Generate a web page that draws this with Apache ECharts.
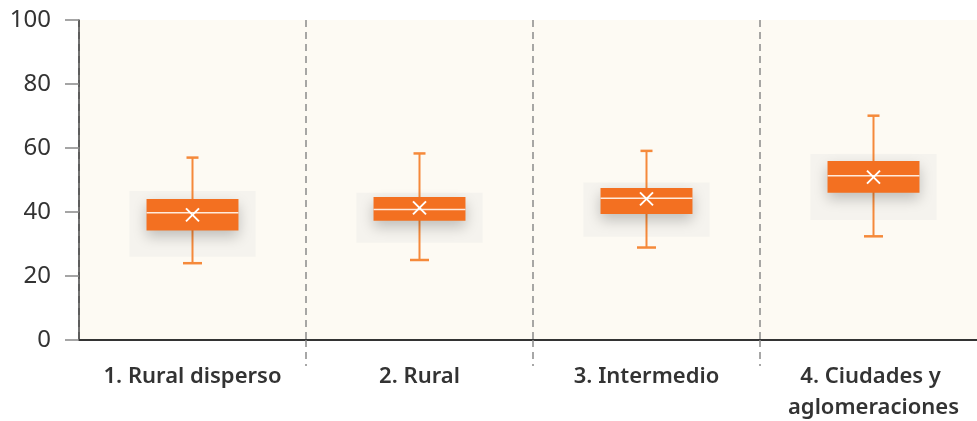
<!DOCTYPE html>
<html>
<head>
<meta charset="utf-8">
<script src="https://cdn.jsdelivr.net/npm/echarts@6/dist/echarts.min.js"></script>
<style>
  html, body { margin: 0; padding: 0; background: #fff; }
  #chart { width: 977px; height: 421px; }
</style>
</head>
<body>
<div id="chart"></div>
<script>
const categories = ['1. Rural disperso', '2. Rural', '3. Intermedio', '4. Ciudades y aglomeraciones']
const whiskerLow = [24.0, 25.0, 28.9, 32.4]
const q1 = [34.2, 37.3, 39.4, 46.0]
const median = [39.8, 40.8, 44.3, 51.3]
const q3 = [44.1, 44.7, 47.5, 55.9]
const whiskerHigh = [57.0, 58.3, 59.1, 70.1]
const mean = [39.1, 41.3, 44.1, 50.9]
const bandLow = [26.0, 30.4, 32.3, 37.5]
const bandHigh = [46.6, 46.0, 49.2, 58.1]
const yTicks = [0, 20, 40, 60, 80, 100]

const orange = '#f37021'
const whiskerColor = '#f5893a'

const seriesData = categories.map((c, i) => [
  i, whiskerLow[i], q1[i], median[i], q3[i], whiskerHigh[i], mean[i], bandLow[i], bandHigh[i]
])

// dibuja caja, bigotes, banda gris y la media
function renderBox(params, api) {
  const idx = api.value(0)
  const catW = api.size([1, 0])[0]
  const cx = api.coord([idx, 0])[0]
  const y = v => api.coord([idx, v])[1]
  const boxW = catW * 0.405
  const bandW = catW * 0.556
  const capTop = 12
  const capBottom = 19
  const yLow = y(api.value(1))
  const yQ1 = y(api.value(2))
  const yMed = y(api.value(3))
  const yQ3 = y(api.value(4))
  const yHigh = y(api.value(5))
  const yMean = y(api.value(6))
  const yBandLow = y(api.value(7))
  const yBandHigh = y(api.value(8))
  const m = 6.5

  return {
    type: 'group',
    children: [
      {
        type: 'rect',
        shape: { x: cx - bandW / 2, y: yBandHigh, width: bandW, height: yBandLow - yBandHigh },
        style: { fill: '#f5f3ee' }
      },
      {
        type: 'line',
        shape: { x1: cx, y1: yHigh, x2: cx, y2: yLow },
        style: { stroke: whiskerColor, lineWidth: 2 }
      },
      {
        type: 'line',
        shape: { x1: cx - capTop / 2, y1: yHigh, x2: cx + capTop / 2, y2: yHigh },
        style: { stroke: whiskerColor, lineWidth: 2.5 }
      },
      {
        type: 'line',
        shape: { x1: cx - capBottom / 2, y1: yLow, x2: cx + capBottom / 2, y2: yLow },
        style: { stroke: whiskerColor, lineWidth: 2.5 }
      },
      {
        type: 'rect',
        shape: { x: cx - boxW / 2, y: yQ3, width: boxW, height: yQ1 - yQ3 },
        style: {
          fill: orange,
          shadowBlur: 14,
          shadowOffsetY: 6,
          shadowColor: 'rgba(0,0,0,0.22)'
        }
      },
      {
        type: 'line',
        shape: { x1: cx - boxW / 2, y1: yMed, x2: cx + boxW / 2, y2: yMed },
        style: { stroke: 'rgba(255,240,230,0.95)', lineWidth: 1.5 }
      },
      {
        type: 'line',
        shape: { x1: cx - m, y1: yMean - m, x2: cx + m, y2: yMean + m },
        style: { stroke: '#fff', lineWidth: 2 }
      },
      {
        type: 'line',
        shape: { x1: cx - m, y1: yMean + m, x2: cx + m, y2: yMean - m },
        style: { stroke: '#fff', lineWidth: 2 }
      }
    ]
  }
}

const chart = echarts.init(document.getElementById('chart'), null, { renderer: 'canvas' })
chart.setOption({
  animation: false,
  textStyle: { fontFamily: '"Noto Sans", sans-serif' },
  grid: {
    left: 79,
    top: 20,
    width: 908,
    bottom: 81,
    outerBoundsMode: 'none',
    containLabel: false,
    show: true,
    backgroundColor: '#fdfaf3',
    borderWidth: 0
  },
  xAxis: {
    type: 'category',
    data: categories,
    axisLine: { lineStyle: { color: '#333', width: 2 } },
    axisTick: {
      show: true,
      length: 26,
      interval: (i) => i > 0,
      lineStyle: { color: '#8a8a8a', width: 1.5, type: [7, 5] }
    },
    splitLine: {
      show: true,
      interval: 0,
      lineStyle: { color: '#8a8a8a', width: 1.5, type: [7, 5] }
    },
    axisLabel: {
      interval: 0,
      margin: 21,
      fontSize: 22,
      fontWeight: 600,
      color: '#333',
      width: 200,
      overflow: 'break',
      lineHeight: 31
    }
  },
  yAxis: {
    type: 'value',
    min: 0,
    max: 100,
    interval: 20,
    axisLine: { show: true, lineStyle: { color: '#444', width: 1.5 } },
    axisTick: { show: true, length: 14, lineStyle: { color: '#888', width: 1.5 } },
    splitLine: { show: false },
    axisLabel: {
      margin: 28,
      fontSize: 24,
      color: '#333',
      formatter: v => (yTicks.includes(v) ? String(v) : '')
    }
  },
  series: [
    {
      type: 'custom',
      renderItem: renderBox,
      data: seriesData,
      encode: { x: 0, y: [1, 2, 3, 4, 5, 6, 7, 8] },
      clip: false
    }
  ]
})
</script>
</body>
</html>
